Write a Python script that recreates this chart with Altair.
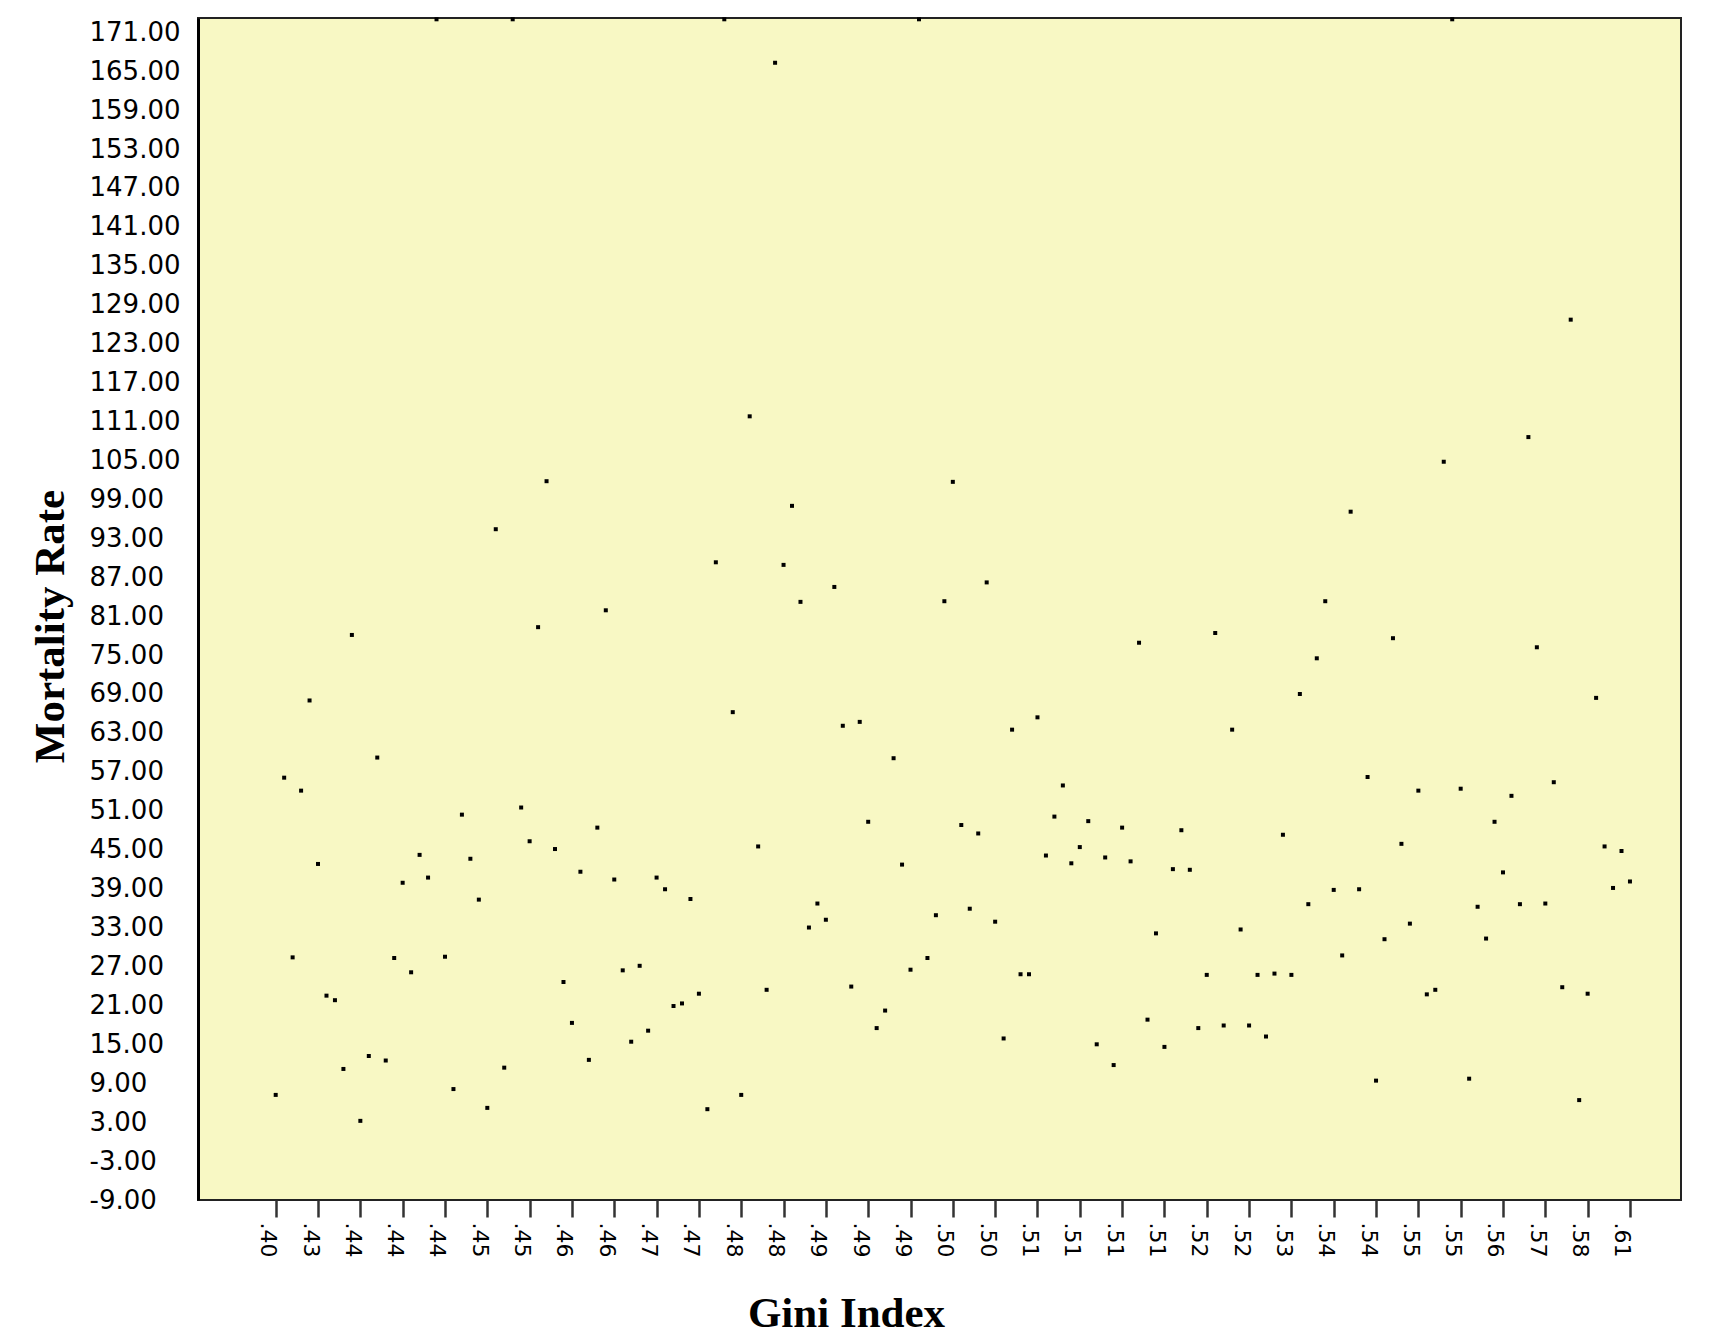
import json
import altair as alt
import pandas as pd

# Mortality rate for each country, ordered by Gini index (one category per country)
mortality = [
    7.2, 56.1, 28.4, 54.1, 68.0, 42.8, 22.5, 21.8, 11.2, 78.1,
    3.2, 13.2, 59.2, 12.5, 28.3, 39.9, 26.1, 44.2, 40.7, 173.0,
    28.5, 8.1, 50.4, 43.6, 37.3, 5.2, 94.4, 11.4, 173.0, 51.5,
    46.3, 79.3, 101.8, 45.1, 24.6, 18.3, 41.6, 12.6, 48.4, 81.9,
    40.4, 26.4, 15.4, 27.1, 17.1, 40.7, 38.9, 20.9, 21.3, 37.4,
    22.8, 5.0, 89.3, 173.0, 66.2, 7.2, 111.8, 45.5, 23.4, 166.3,
    88.9, 98.0, 83.2, 33.0, 36.7, 34.2, 85.5, 64.1, 23.9, 64.7,
    49.3, 17.5, 20.2, 59.1, 42.7, 26.5, 173.0, 28.3, 34.9, 83.3,
    101.7, 48.8, 35.9, 47.5, 86.2, 33.9, 15.9, 63.5, 25.8, 25.8,
    65.4, 44.1, 50.1, 54.9, 42.9, 45.4, 49.4, 15.0, 43.8, 11.8,
    48.4, 43.2, 76.9, 18.8, 32.1, 14.6, 42.0, 48.0, 41.9, 17.5,
    25.7, 78.4, 17.9, 63.5, 32.7, 17.9, 25.7, 16.2, 25.9, 47.3,
    25.7, 69.0, 36.6, 74.5, 83.3, 38.8, 28.7, 97.1, 38.9, 56.2,
    9.4, 31.2, 77.6, 45.9, 33.6, 54.1, 22.7, 23.4, 104.8, 173.0,
    54.4, 9.7, 36.2, 31.3, 49.3, 41.5, 53.3, 36.6, 108.6, 76.2,
    36.7, 55.4, 23.8, 126.7, 6.4, 22.8, 68.4, 45.5, 39.1, 44.8,
    40.1,
]

# Gini index labels shown under every 5th category
gini_tick_labels = [
    ".40", ".43", ".44", ".44", ".44", ".45", ".45", ".46", ".46", ".47",
    ".47", ".48", ".48", ".49", ".49", ".49", ".50", ".50", ".51", ".51",
    ".51", ".51", ".52", ".52", ".53", ".54", ".54", ".55", ".55", ".56",
    ".57", ".58", ".61",
]
label_step = 5

y_ticks = list(range(-9, 172, 6))

df = pd.DataFrame({"rank": list(range(len(mortality))), "mortality": mortality})
x_tick_values = [i * label_step for i in range(len(gini_tick_labels))]
label_expr = json.dumps(gini_tick_labels) + "[round(datum.value / %d)]" % label_step
y_label_expr = "datum.value < 0 ? '-' + format(-datum.value, '.2f') : format(datum.value, '.2f')"

chart = (
    alt.Chart(df)
    .mark_square(size=16, color="black", opacity=1)
    .encode(
        x=alt.X(
            "rank:Q",
            scale=alt.Scale(domain=[-9.18, 166.03], nice=False, zero=False),
            axis=alt.Axis(
                values=x_tick_values,
                labelExpr=label_expr,
                labelAngle=90,
                labelAlign="left",
                labelBaseline="middle",
                labelOffset=-8,
                labelPadding=5,
                labelOverlap=False,
                labelFlush=False,
                tickSize=17,
                tickWidth=2.5,
                tickColor="#333333",
                domain=False,
                grid=False,
                labelFont="DejaVu Sans",
                labelFontSize=22,
                labelColor="black",
                title="Gini Index",
                titleFont="Liberation Serif",
                titleFontSize=43,
                titleFontWeight="bold",
                titleColor="black",
                titleX=648,
                titleY=126,
                titleAlign="center",
                titleBaseline="alphabetic",
            ),
        ),
        y=alt.Y(
            "mortality:Q",
            scale=alt.Scale(domain=[-9, 173.2], nice=False, zero=False),
            axis=alt.Axis(
                values=y_ticks,
                labelExpr=y_label_expr,
                ticks=False,
                tickSize=0,
                labelAlign="left",
                labelBaseline="middle",
                labelPadding=109,
                labelOverlap=False,
                labelFlush=False,
                domain=True,
                domainColor="black",
                domainWidth=3,
                grid=False,
                labelFont="DejaVu Sans",
                labelFontSize=26,
                labelColor="black",
                title="Mortality Rate",
                titleFont="Liberation Serif",
                titleFontSize=43,
                titleFontWeight="bold",
                titleColor="black",
                titleAngle=270,
                titleX=-135,
                titleY=608,
                titleAlign="center",
                titleBaseline="alphabetic",
            ),
        ),
    )
    .properties(
        width=1483,
        height=1182,
        autosize=alt.AutoSizeParams(type="none"),
        padding={"left": 190, "top": 10, "right": 20, "bottom": 134},
    )
    .configure(background="white")
    .configure_view(fill="#F8F8C4", stroke="#222222", strokeWidth=2)
)

chart.save("out.html", embed_options={"renderer": "svg", "actions": False})
